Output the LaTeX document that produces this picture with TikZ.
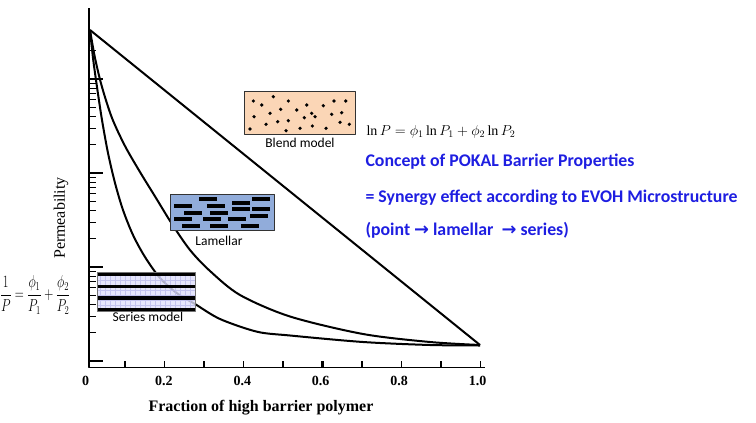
\documentclass[tikz,border=0pt]{standalone}
\usepackage{amsmath}
\usepackage{graphicx}
\usepackage{fontspec}
\setmainfont{Liberation Serif}
\newfontfamily\calibri{Carlito}
\newfontfamily\arrowfont{DejaVu Sans}
\usepackage{tikz}
\usetikzlibrary{calc}
\definecolor{conceptblue}{RGB}{30,30,225}
\definecolor{blendfill}{RGB}{251,214,182}
\definecolor{lamfill}{RGB}{145,172,218}
\definecolor{serfill}{RGB}{222,222,250}
\definecolor{sergrid}{RGB}{185,185,235}

\begin{document}
\begin{tikzpicture}[x=1pt,y=-1pt,line join=round,
  boxlabel/.style={font=\calibri\fontsize{13.5}{15}\selectfont},
  concept/.style={anchor=base west,text=conceptblue,font=\calibri\bfseries\fontsize{17.8}{19}\selectfont}]
\useasboundingbox (0,0) rectangle (756,423);
  % axes
  \draw[line width=1.8pt] (89,8) -- (89,367.5) -- (485,367.5);
  \foreach \d in {79,173,267,361} \draw[line width=1.3pt] (89,\d) -- ++(14,0);
  \foreach \d in {173,267,361} {
    \foreach \m in {2,...,9} \draw[line width=1.2pt] (89,{\d-94*log10(\m)}) -- ++(7,0);
  }
  \draw[line width=1.2pt] (89,50.7) -- ++(7,0);
  \foreach \i in {1,2,4,5,7,8,9,10} \draw[line width=1.2pt] (85.5+39.5*\i,367.5) -- ++(0,-7);
  \foreach \i in {3,6} \draw[line width=2.5pt] (85.5+39.5*\i,367.5) -- ++(0,-7);
  \foreach \v/\t in {0/0,2/0.2,4/0.4,6/0.6,8/0.8,10/1.0}
    \node[anchor=base,font=\bfseries\fontsize{14}{16}\selectfont] (x\v) at (85.5+39.2*\v,385) {\t};
  \node[anchor=base,font=\bfseries\fontsize{16}{18}\selectfont] (xtitle) at (261,411) {Fraction of high barrier polymer};
  \node[rotate=90,font=\fontsize{16}{18}\selectfont] (ytitle) at (61,218) {Permeability};

  % the three models
  \draw[line width=2pt] (90,30) -- (480,345);
  \draw[line width=2pt] plot[smooth] coordinates {(90,30) (95,58) (102,87) (112,118) (125,146) (140,172) (156,198) (172,224) (190,250) (210,271) (240,295) (290,316.5) (363,334) (430,342) (480,345)};
  \draw[line width=2pt] plot[smooth] coordinates {(90,30) (93,58) (97,87) (102,120) (108,153) (115,183) (123,210) (133,235) (145,257) (160,278) (178,294) (195,304) (220,319) (257,331.7) (290,335.5) (363,342) (430,345) (480,345.5)};

  % blend model
  \node[draw=black!80,fill=blendfill,line width=0.9pt,minimum width=110.7pt,minimum height=42.3pt,inner sep=0pt] (blend) at (299.7,112.9) {};
  \foreach \p in {(253.3,101),(261.7,105),(273.3,96.7),(288.3,101),(306.7,105),(323.3,105.7),(334,101),(345.7,101),(270,113.3),(280.7,109.3),(296.7,110),(311.7,113.3),(331.7,114.3),(341.7,112.7),(254,116.7),(266,124.3),(277.7,121.7),(288.3,120.7),(304.3,117.7),(315,116.7),(250,129),(286,130.7),(300,128.3),(312.3,126),(326,128.3),(340,122.3),(349.3,124.3)}
    \fill \p circle (1.8pt);
  \node[boxlabel] (blendlab) at (300,143) {Blend model};

  % lamellar
  \node[draw=black!80,fill=lamfill,line width=0.9pt,minimum width=104pt,minimum height=36.7pt,inner sep=0pt] (lam) at (222.7,212.4) {};
  \foreach \c in {(208,199.3),(261,199.3),(240.5,202.7),(183,205.7),(216,205.7),(240.5,209.3),(261,209.3),(193.3,212.7),(218.5,212.7),(259,216),(183,218.7),(211.5,219),(237,219),(191,225.7),(218.5,225.7),(250,225.7)}
    \fill \c ++(-9,-1.9) rectangle ++(18,3.8);
  \node[boxlabel] (lamlab) at (219,241) {Lamellar};

  % series model
  \fill[serfill,fill opacity=0.8] (97.3,272) rectangle (195,311);
  \draw[sergrid,opacity=0.8,step=5pt] (97.3,272) grid (195,311);
  \foreach \a/\b in {273/276.3,284.7/287.7,296.3/300,307.7/311}
    \fill (97.3,\a) rectangle (195,\b);
  \draw[black!55,line width=0.8pt] (97.3,272) rectangle (195,311);
  \node[boxlabel] (serlab) at (148,317) {Series model};

  % equations and concept text
  \node[anchor=west,inner sep=0pt,font=\fontsize{17.28}{19}\selectfont] (serieseq) at (0,295) {\scalebox{0.72}[1]{$\displaystyle\frac{1}{P}=\frac{\phi_1}{P_1}+\frac{\phi_2}{P_2}$}};
  \node[anchor=base west,font=\fontsize{14}{16}\selectfont] (blendeq) at (363,135) {$\ln P=\phi_1\ln P_1+\phi_2\ln P_2$};
  \node[concept] (concept) at (362,166) {Concept of POKAL Barrier Properties};
  \node[concept] (synergy) at (362,202.7) {= Synergy effect according to EVOH Microstructure};
  \node[concept] (order) at (362,235) {(point {\arrowfont\bfseries →} lamellar \ {\arrowfont\bfseries →} series)};
\end{tikzpicture}
\end{document}
